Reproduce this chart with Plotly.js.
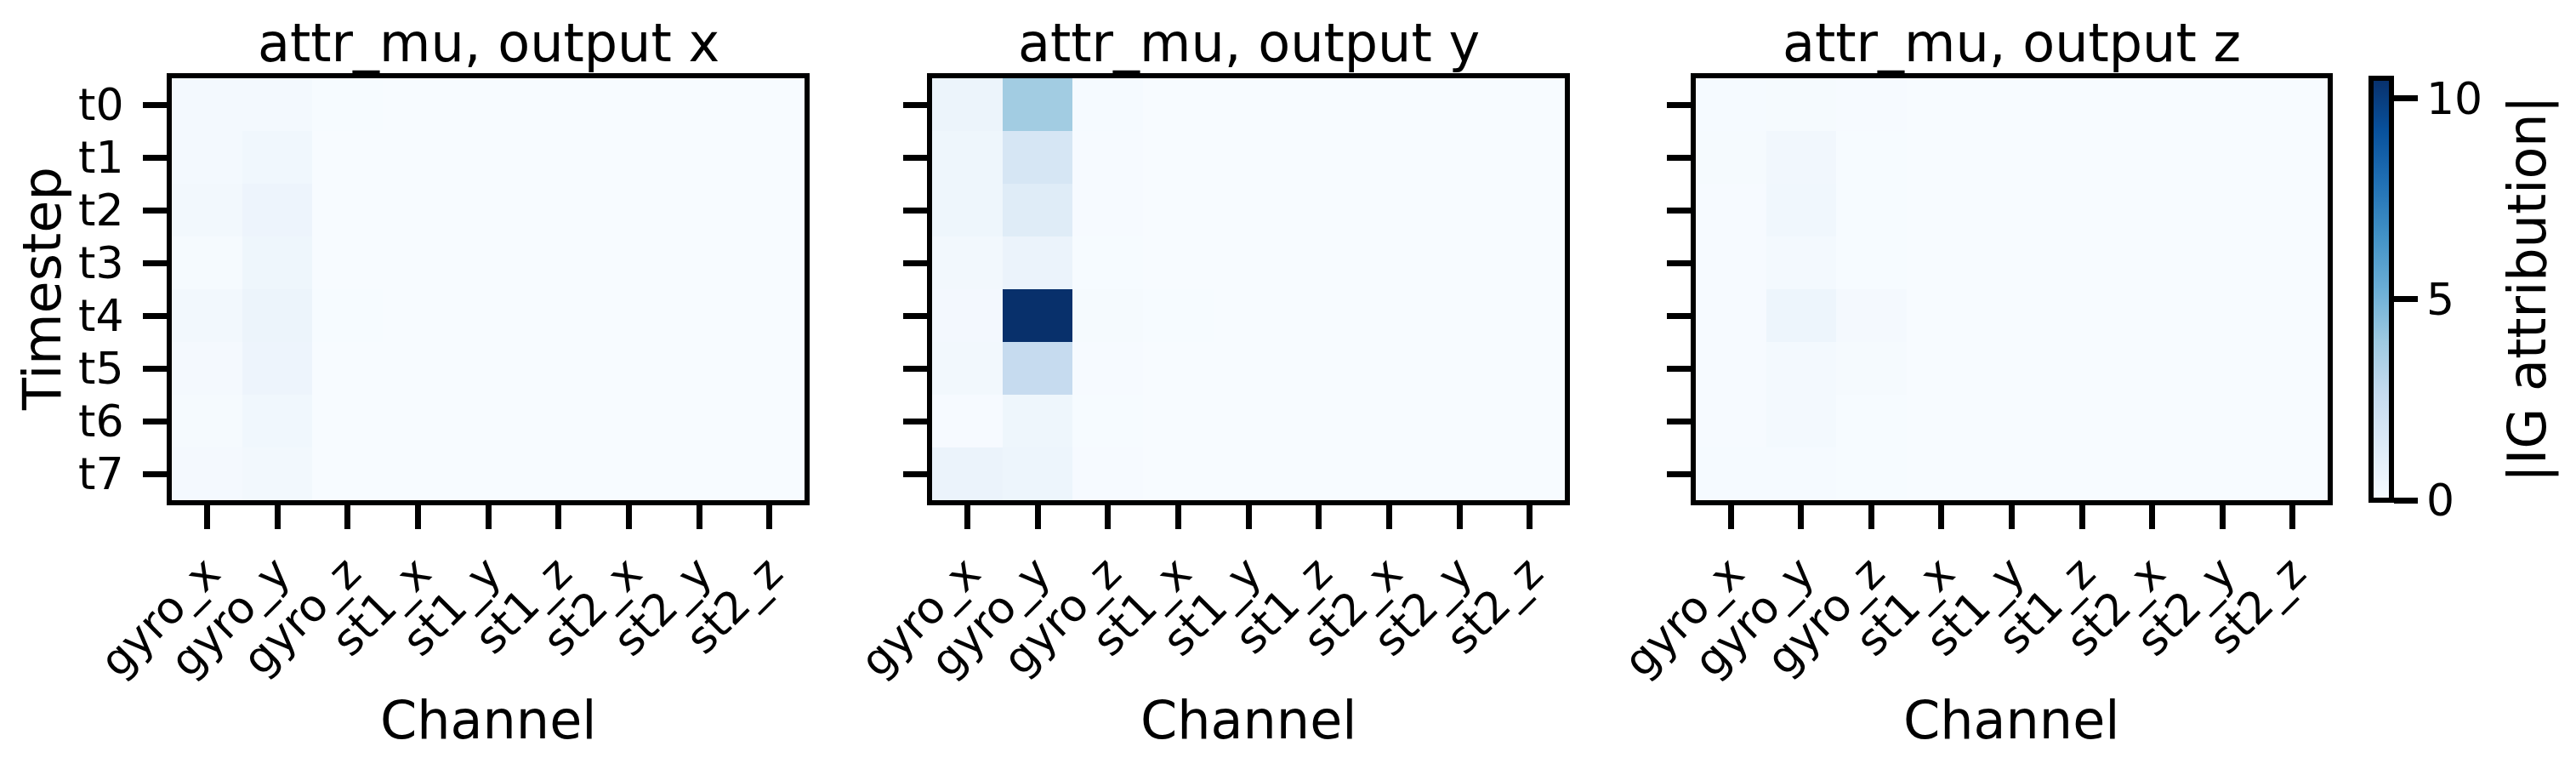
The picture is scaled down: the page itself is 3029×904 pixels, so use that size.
<!DOCTYPE html>
<html>
<head>
<meta charset="utf-8">
<script src="https://cdn.plot.ly/plotly-3.0.1.min.js"></script>
<style>
  html, body { margin: 0; padding: 0; background: #fff; }
  #plot { width: 3029px; height: 904px; }
</style>
</head>
<body>
<div id="plot"></div>
<script>
const channels = ["gyro_x", "gyro_y", "gyro_z", "st1_x", "st1_y", "st1_z", "st2_x", "st2_y", "st2_z"];
const timesteps = ["t0", "t1", "t2", "t3", "t4", "t5", "t6", "t7"];
const panelTitles = ["attr_mu, output x", "attr_mu, output y", "attr_mu, output z"];

// |IG attribution| per timestep (rows) and channel (columns)
const attrX = [
    [0.20, 0.20, 0.03, 0.01, 0.01, 0.01, 0.01, 0.01, 0.01],
    [0.20, 0.35, 0.02, 0.01, 0.01, 0.01, 0.01, 0.01, 0.01],
    [0.25, 0.55, 0.02, 0.01, 0.01, 0.01, 0.01, 0.01, 0.01],
    [0.12, 0.45, 0.02, 0.01, 0.01, 0.01, 0.01, 0.01, 0.01],
    [0.25, 0.60, 0.03, 0.01, 0.01, 0.01, 0.01, 0.01, 0.01],
    [0.15, 0.55, 0.02, 0.01, 0.01, 0.01, 0.01, 0.01, 0.01],
    [0.10, 0.35, 0.02, 0.01, 0.01, 0.01, 0.01, 0.01, 0.01],
    [0.15, 0.25, 0.02, 0.01, 0.01, 0.01, 0.01, 0.01, 0.01]
];
const attrY = [
    [0.60, 3.80, 0.08, 0.02, 0.01, 0.01, 0.01, 0.01, 0.01],
    [0.45, 1.75, 0.05, 0.02, 0.01, 0.01, 0.01, 0.01, 0.01],
    [0.45, 1.25, 0.05, 0.02, 0.01, 0.01, 0.01, 0.01, 0.01],
    [0.25, 0.65, 0.04, 0.02, 0.01, 0.01, 0.01, 0.01, 0.01],
    [0.22, 10.50, 0.12, 0.03, 0.01, 0.01, 0.01, 0.01, 0.01],
    [0.25, 2.60, 0.05, 0.02, 0.01, 0.01, 0.01, 0.01, 0.01],
    [0.05, 0.45, 0.04, 0.02, 0.01, 0.01, 0.01, 0.01, 0.01],
    [0.65, 0.50, 0.06, 0.02, 0.01, 0.01, 0.01, 0.01, 0.01]
];
const attrZ = [
    [0.08, 0.12, 0.05, 0.01, 0.01, 0.01, 0.01, 0.01, 0.01],
    [0.10, 0.30, 0.04, 0.01, 0.01, 0.01, 0.01, 0.01, 0.01],
    [0.06, 0.35, 0.04, 0.01, 0.01, 0.01, 0.01, 0.01, 0.01],
    [0.05, 0.20, 0.04, 0.01, 0.01, 0.01, 0.01, 0.01, 0.01],
    [0.06, 0.50, 0.15, 0.01, 0.01, 0.01, 0.01, 0.01, 0.01],
    [0.05, 0.20, 0.10, 0.01, 0.01, 0.01, 0.01, 0.01, 0.01],
    [0.06, 0.20, 0.04, 0.01, 0.01, 0.01, 0.01, 0.01, 0.01],
    [0.08, 0.08, 0.04, 0.01, 0.01, 0.01, 0.01, 0.01, 0.01]
];
const colorMax = 10.5;
const cbarTicks = [0, 5, 10];

// matplotlib "Blues"
const blues = [
    [0.0, "#f7fbff"], [0.125, "#deebf7"], [0.25, "#c6dbef"], [0.375, "#9ecae1"],
    [0.5, "#6baed6"], [0.625, "#4292c6"], [0.75, "#2171b5"], [0.875, "#08519c"], [1.0, "#08306b"]
];

const W = 3029, H = 904;
const FONT = "DejaVu Sans";
const TICK_SIZE = 52, LABEL_SIZE = 62;
const plotTop = 92, plotBottom = 588;
const panelsPx = [[202, 946], [1096, 1840], [1994, 2737]];
const yDom = [1 - plotBottom / H, 1 - plotTop / H];

const mats = [attrX, attrY, attrZ];
const traces = mats.map((z, i) => ({
    type: "heatmap",
    x: channels,
    y: timesteps,
    z: z,
    coloraxis: "coloraxis",
    xaxis: i === 0 ? "x" : "x" + (i + 1),
    yaxis: i === 0 ? "y" : "y" + (i + 1)
}));

const axisCommon = {
    showline: true, mirror: true, linewidth: 6, linecolor: "black",
    ticks: "outside", ticklen: 28, tickwidth: 7, tickcolor: "black",
    showgrid: false, zeroline: false,
    tickfont: { family: FONT, size: TICK_SIZE, color: "black" }
};

const layout = {
    width: W, height: H,
    margin: { l: 0, r: 0, t: 0, b: 0 },
    paper_bgcolor: "white", plot_bgcolor: "white",
    showlegend: false,
    font: { family: FONT, color: "black" },
    coloraxis: {
        colorscale: blues, cmin: 0, cmax: colorMax,
        colorbar: {
            x: 2788 / W, xanchor: "left", xpad: 0,
            y: yDom[0], yanchor: "bottom", ypad: 0,
            len: yDom[1] - yDom[0], lenmode: "fraction",
            thickness: 24, thicknessmode: "pixels",
            outlinewidth: 6, outlinecolor: "black",
            ticks: "outside", ticklen: 28, tickwidth: 7, tickcolor: "black",
            tickvals: cbarTicks, ticktext: cbarTicks.map(String),
            tickfont: { family: FONT, size: TICK_SIZE, color: "black" }
        }
    },
    annotations: []
};

panelsPx.forEach((p, i) => {
    const sfx = i === 0 ? "" : String(i + 1);
    layout["xaxis" + sfx] = Object.assign({}, axisCommon, {
        domain: [p[0] / W, p[1] / W],
        anchor: "y" + sfx,
        type: "category",
        range: [-0.5, channels.length - 0.5],
        tickmode: "array", tickvals: channels, ticktext: channels,
        tickangle: -45,
        fixedrange: true
    });
    layout["yaxis" + sfx] = Object.assign({}, axisCommon, {
        domain: yDom,
        anchor: "x" + sfx,
        type: "category",
        range: [timesteps.length - 0.5, -0.5],
        tickmode: "array", tickvals: timesteps, ticktext: timesteps,
        showticklabels: i === 0,
        ticklabelstandoff: 12,
        fixedrange: true
    });
    const cx = (p[0] + p[1]) / 2 / W;
    layout.annotations.push({
        text: panelTitles[i], xref: "paper", yref: "paper",
        x: cx, y: 1 - 50 / H, xanchor: "center", yanchor: "middle",
        showarrow: false, font: { family: FONT, size: LABEL_SIZE, color: "black" }
    });
    layout.annotations.push({
        text: "Channel", xref: "paper", yref: "paper",
        x: cx, y: 1 - 846 / H, xanchor: "center", yanchor: "middle",
        showarrow: false, font: { family: FONT, size: LABEL_SIZE, color: "black" }
    });
});

layout.annotations.push({
    text: "Timestep", xref: "paper", yref: "paper",
    x: 49 / W, y: 1 - 340 / H, xanchor: "center", yanchor: "middle",
    textangle: -90, showarrow: false, font: { family: FONT, size: LABEL_SIZE, color: "black" }
});
layout.annotations.push({
    text: "|IG attribution|", xref: "paper", yref: "paper",
    x: 2972 / W, y: 1 - 340 / H, xanchor: "center", yanchor: "middle",
    textangle: -90, showarrow: false, font: { family: FONT, size: LABEL_SIZE, color: "black" }
});

Plotly.newPlot("plot", traces, layout, { staticPlot: true, displayModeBar: false });
</script>
</body>
</html>
